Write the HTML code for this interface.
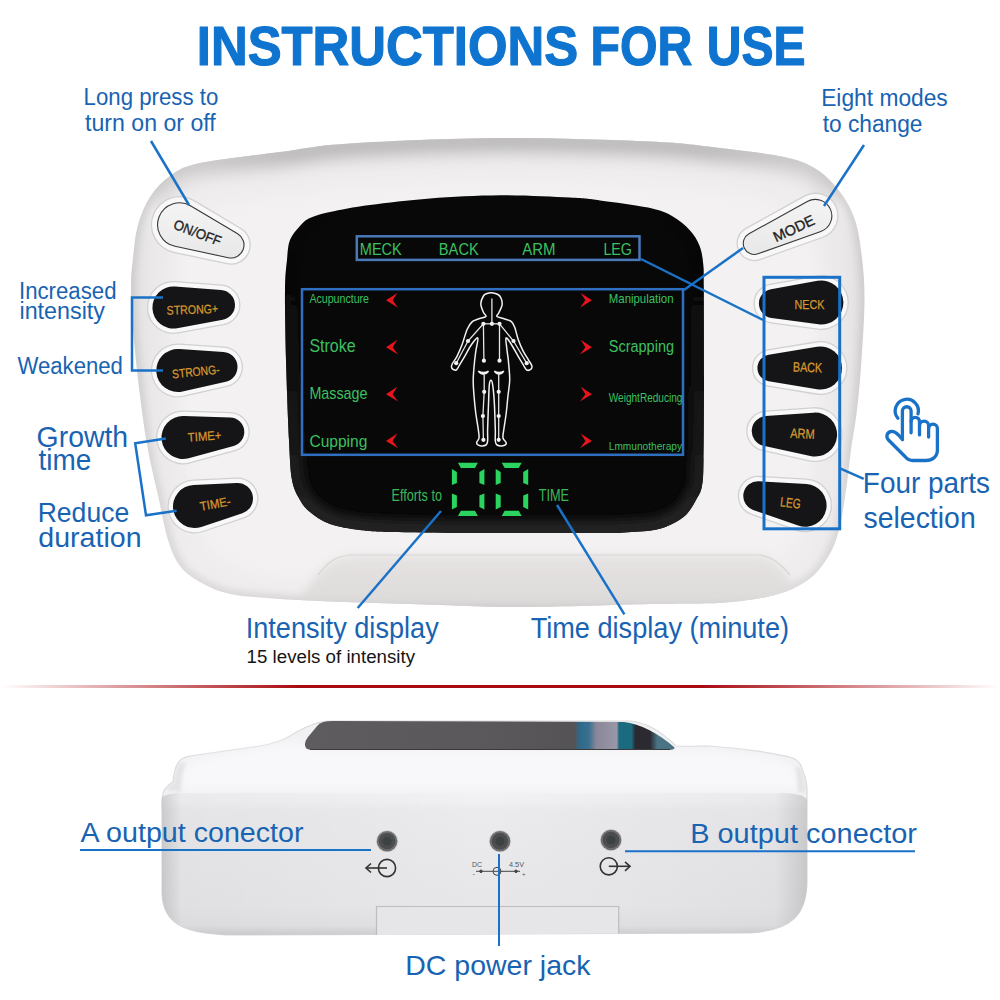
<!DOCTYPE html>
<html><head><meta charset="utf-8"><style>
html,body{margin:0;padding:0;background:#fff;width:1000px;height:1000px;overflow:hidden}
svg{display:block}
text{font-family:"Liberation Sans", sans-serif}
</style></head><body>
<svg width="1000" height="1000" viewBox="0 0 1000 1000">
<rect width="1000" height="1000" fill="#fff"/>
<text x="196.79" y="65.40" font-size="55.52" font-weight="bold" fill="#0e74cf" textLength="381.39" lengthAdjust="spacingAndGlyphs" stroke="#0e74cf" stroke-width="1.20" stroke-linejoin="round" >INSTRUCTIONS</text>
<text x="590.46" y="65.40" font-size="55.52" font-weight="bold" fill="#0e74cf" textLength="101.95" lengthAdjust="spacingAndGlyphs" stroke="#0e74cf" stroke-width="1.20" stroke-linejoin="round" >FOR</text>
<text x="706.72" y="65.40" font-size="55.52" font-weight="bold" fill="#0e74cf" textLength="98.82" lengthAdjust="spacingAndGlyphs" stroke="#0e74cf" stroke-width="1.20" stroke-linejoin="round" >USE</text>
<defs>
<linearGradient id="bodyg" x1="0" y1="0" x2="0" y2="1">
 <stop offset="0" stop-color="#d6d6d6"/>
 <stop offset="0.035" stop-color="#ededed"/>
 <stop offset="0.1" stop-color="#f3f3f3"/>
 <stop offset="0.5" stop-color="#f3f3f3"/>
 <stop offset="0.92" stop-color="#efefef"/>
 <stop offset="1" stop-color="#d8d8d8"/>
</linearGradient>
<linearGradient id="bodyr" x1="0" y1="0" x2="1" y2="0">
 <stop offset="0" stop-color="#000" stop-opacity="0.06"/>
 <stop offset="0.03" stop-color="#000" stop-opacity="0.02"/>
 <stop offset="0.08" stop-color="#000" stop-opacity="0"/>
 <stop offset="0.92" stop-color="#000" stop-opacity="0"/>
 <stop offset="0.97" stop-color="#000" stop-opacity="0.02"/>
 <stop offset="1" stop-color="#000" stop-opacity="0.06"/>
</linearGradient>
<linearGradient id="redl" x1="0" y1="0" x2="1" y2="0">
 <stop offset="0" stop-color="#a80a10" stop-opacity="0"/>
 <stop offset="0.3" stop-color="#a80a10" stop-opacity="1"/>
 <stop offset="0.7" stop-color="#a80a10" stop-opacity="1"/>
 <stop offset="1" stop-color="#a80a10" stop-opacity="0"/>
</linearGradient>
<radialGradient id="scrg" cx="0.5" cy="0.35" r="0.7">
 <stop offset="0.6" stop-color="#000" stop-opacity="1"/>
 <stop offset="0.85" stop-color="#000" stop-opacity="0.6"/>
 <stop offset="1" stop-color="#000" stop-opacity="0"/>
</radialGradient>
<linearGradient id="bpanel" gradientUnits="userSpaceOnUse" x1="0" y1="555" x2="0" y2="610">
 <stop offset="0" stop-color="#e6e3e3"/>
 <stop offset="1" stop-color="#dcd9d9"/>
</linearGradient>
<linearGradient id="topband" gradientUnits="userSpaceOnUse" x1="150" y1="0" x2="850" y2="0">
 <stop offset="0" stop-color="#dcdada"/>
 <stop offset="0.2" stop-color="#b4b2b2"/>
 <stop offset="0.8" stop-color="#b4b2b2"/>
 <stop offset="1" stop-color="#dcdada"/>
</linearGradient>
<linearGradient id="bevel" gradientUnits="userSpaceOnUse" x1="0" y1="200" x2="0" y2="535">
 <stop offset="0" stop-color="#0a0a0a" stop-opacity="0"/>
 <stop offset="0.5" stop-color="#161616" stop-opacity="0.6"/>
 <stop offset="1" stop-color="#242424" stop-opacity="1"/>
</linearGradient>
<linearGradient id="onoffg" x1="0" y1="0" x2="0" y2="1">
 <stop offset="0" stop-color="#f4f4f4"/>
 <stop offset="1" stop-color="#e8e8e8"/>
</linearGradient>
</defs>
<clipPath id="bclip"><path d="M500.0,138.0 C550.0,137.7 613.3,139.8 650.0,141.5 C686.7,143.2 697.7,145.4 720.0,148.0 C742.3,150.6 768.0,153.5 784.0,157.0 C800.0,160.5 806.7,163.2 816.0,169.0 C825.3,174.8 833.5,183.5 840.0,192.0 C846.5,200.5 851.3,209.0 855.0,220.0 C858.7,231.0 860.4,244.7 862.0,258.0 C863.6,271.3 864.6,283.0 864.5,300.0 C864.4,317.0 862.8,341.7 861.5,360.0 C860.2,378.3 858.8,395.0 857.0,410.0 C855.2,425.0 852.8,436.7 851.0,450.0 C849.2,463.3 848.0,476.7 846.0,490.0 C844.0,503.3 842.0,518.8 839.0,530.0 C836.0,541.2 833.2,548.7 828.0,557.0 C822.8,565.3 816.8,573.7 808.0,580.0 C799.2,586.3 788.8,591.2 775.0,595.0 C761.2,598.8 745.8,601.0 725.0,602.5 C704.2,604.0 683.3,603.2 650.0,604.0 C616.7,604.8 560.0,606.8 525.0,607.0 C490.0,607.2 474.2,606.0 440.0,605.0 C405.8,604.0 346.7,602.0 320.0,601.0 C293.3,600.0 295.0,600.2 280.0,599.0 C265.0,597.8 243.3,596.8 230.0,594.0 C216.7,591.2 208.3,586.7 200.0,582.0 C191.7,577.3 185.3,573.0 180.0,566.0 C174.7,559.0 171.5,551.0 168.0,540.0 C164.5,529.0 162.3,515.0 159.0,500.0 C155.7,485.0 151.2,467.3 148.0,450.0 C144.8,432.7 142.5,416.0 140.0,396.0 C137.5,376.0 134.5,348.5 133.0,330.0 C131.5,311.5 131.0,297.0 131.0,285.0 C131.0,273.0 131.9,267.8 133.0,258.0 C134.1,248.2 134.8,236.2 137.6,226.0 C140.4,215.8 144.6,205.3 150.0,197.0 C155.4,188.7 161.7,181.7 170.0,176.0 C178.3,170.3 181.7,167.0 200.0,163.0 C218.3,159.0 255.0,155.3 280.0,152.0 C305.0,148.7 313.3,145.7 350.0,143.4 C386.7,141.1 450.0,138.3 500.0,138.0 Z"/></clipPath>
<filter id="bl9" x="-0.2" y="-0.2" width="1.4" height="1.4"><feGaussianBlur stdDeviation="9"/></filter>
<filter id="bl4" x="-0.2" y="-0.2" width="1.4" height="1.4"><feGaussianBlur stdDeviation="4"/></filter>
<filter id="bl2" x="-0.5" y="-0.5" width="2" height="2"><feGaussianBlur stdDeviation="1.5"/></filter>
<g clip-path="url(#bclip)">
<rect x="100" y="120" width="800" height="500" fill="#efeded"/>
<path d="M500.0,138.0 C550.0,137.7 613.3,139.8 650.0,141.5 C686.7,143.2 697.7,145.4 720.0,148.0 C742.3,150.6 768.0,153.5 784.0,157.0 C800.0,160.5 806.7,163.2 816.0,169.0 C825.3,174.8 833.5,183.5 840.0,192.0 C846.5,200.5 851.3,209.0 855.0,220.0 C858.7,231.0 860.4,244.7 862.0,258.0 C863.6,271.3 864.6,283.0 864.5,300.0 C864.4,317.0 862.8,341.7 861.5,360.0 C860.2,378.3 858.8,395.0 857.0,410.0 C855.2,425.0 852.8,436.7 851.0,450.0 C849.2,463.3 848.0,476.7 846.0,490.0 C844.0,503.3 842.0,518.8 839.0,530.0 C836.0,541.2 833.2,548.7 828.0,557.0 C822.8,565.3 816.8,573.7 808.0,580.0 C799.2,586.3 788.8,591.2 775.0,595.0 C761.2,598.8 745.8,601.0 725.0,602.5 C704.2,604.0 683.3,603.2 650.0,604.0 C616.7,604.8 560.0,606.8 525.0,607.0 C490.0,607.2 474.2,606.0 440.0,605.0 C405.8,604.0 346.7,602.0 320.0,601.0 C293.3,600.0 295.0,600.2 280.0,599.0 C265.0,597.8 243.3,596.8 230.0,594.0 C216.7,591.2 208.3,586.7 200.0,582.0 C191.7,577.3 185.3,573.0 180.0,566.0 C174.7,559.0 171.5,551.0 168.0,540.0 C164.5,529.0 162.3,515.0 159.0,500.0 C155.7,485.0 151.2,467.3 148.0,450.0 C144.8,432.7 142.5,416.0 140.0,396.0 C137.5,376.0 134.5,348.5 133.0,330.0 C131.5,311.5 131.0,297.0 131.0,285.0 C131.0,273.0 131.9,267.8 133.0,258.0 C134.1,248.2 134.8,236.2 137.6,226.0 C140.4,215.8 144.6,205.3 150.0,197.0 C155.4,188.7 161.7,181.7 170.0,176.0 C178.3,170.3 181.7,167.0 200.0,163.0 C218.3,159.0 255.0,155.3 280.0,152.0 C305.0,148.7 313.3,145.7 350.0,143.4 C386.7,141.1 450.0,138.3 500.0,138.0 Z" fill="#f3f1f1" transform="translate(500,390) scale(0.9,0.86) translate(-500,-380)" filter="url(#bl9)"/>
<path d="M150.0,197.0 C153.3,193.5 161.7,181.7 170.0,176.0 C178.3,170.3 181.7,167.0 200.0,163.0 C218.3,159.0 255.0,155.3 280.0,152.0 C305.0,148.7 313.3,145.7 350.0,143.4 C386.7,141.1 450.0,138.3 500.0,138.0 C550.0,137.7 613.3,139.8 650.0,141.5 C686.7,143.2 697.7,145.4 720.0,148.0 C742.3,150.6 768.0,153.5 784.0,157.0 C800.0,160.5 806.7,163.2 816.0,169.0 C825.3,174.8 836.0,188.2 840.0,192.0 " fill="none" stroke="url(#topband)" stroke-width="26" filter="url(#bl9)"/>
<path d="M500.0,138.0 C550.0,137.7 613.3,139.8 650.0,141.5 C686.7,143.2 697.7,145.4 720.0,148.0 C742.3,150.6 768.0,153.5 784.0,157.0 C800.0,160.5 806.7,163.2 816.0,169.0 C825.3,174.8 833.5,183.5 840.0,192.0 C846.5,200.5 851.3,209.0 855.0,220.0 C858.7,231.0 860.4,244.7 862.0,258.0 C863.6,271.3 864.6,283.0 864.5,300.0 C864.4,317.0 862.8,341.7 861.5,360.0 C860.2,378.3 858.8,395.0 857.0,410.0 C855.2,425.0 852.8,436.7 851.0,450.0 C849.2,463.3 848.0,476.7 846.0,490.0 C844.0,503.3 842.0,518.8 839.0,530.0 C836.0,541.2 833.2,548.7 828.0,557.0 C822.8,565.3 816.8,573.7 808.0,580.0 C799.2,586.3 788.8,591.2 775.0,595.0 C761.2,598.8 745.8,601.0 725.0,602.5 C704.2,604.0 683.3,603.2 650.0,604.0 C616.7,604.8 560.0,606.8 525.0,607.0 C490.0,607.2 474.2,606.0 440.0,605.0 C405.8,604.0 346.7,602.0 320.0,601.0 C293.3,600.0 295.0,600.2 280.0,599.0 C265.0,597.8 243.3,596.8 230.0,594.0 C216.7,591.2 208.3,586.7 200.0,582.0 C191.7,577.3 185.3,573.0 180.0,566.0 C174.7,559.0 171.5,551.0 168.0,540.0 C164.5,529.0 162.3,515.0 159.0,500.0 C155.7,485.0 151.2,467.3 148.0,450.0 C144.8,432.7 142.5,416.0 140.0,396.0 C137.5,376.0 134.5,348.5 133.0,330.0 C131.5,311.5 131.0,297.0 131.0,285.0 C131.0,273.0 131.9,267.8 133.0,258.0 C134.1,248.2 134.8,236.2 137.6,226.0 C140.4,215.8 144.6,205.3 150.0,197.0 C155.4,188.7 161.7,181.7 170.0,176.0 C178.3,170.3 181.7,167.0 200.0,163.0 C218.3,159.0 255.0,155.3 280.0,152.0 C305.0,148.7 313.3,145.7 350.0,143.4 C386.7,141.1 450.0,138.3 500.0,138.0 Z" fill="none" stroke="#c8c6c6" stroke-width="5" filter="url(#bl4)"/>
<path d="M300,600 C315,575 325,560 350,555 L760,555 C775,558 785,570 800,600 L800,640 L300,640 Z" fill="url(#bpanel)" filter="url(#bl4)"/>
<path d="M318,575 C328,562 336,556 350,555 L760,555 C772,557 780,563 790,575" fill="none" stroke="#d2cfcf" stroke-width="1.2" opacity="0.8"/>
<path d="M100,598 C300,606 700,612 900,598 L900,640 L100,640 Z" fill="#c9c6c6" filter="url(#bl4)"/>
<path d="M500.0,138.0 C550.0,137.7 613.3,139.8 650.0,141.5 C686.7,143.2 697.7,145.4 720.0,148.0 C742.3,150.6 768.0,153.5 784.0,157.0 C800.0,160.5 806.7,163.2 816.0,169.0 C825.3,174.8 833.5,183.5 840.0,192.0 C846.5,200.5 851.3,209.0 855.0,220.0 C858.7,231.0 860.4,244.7 862.0,258.0 C863.6,271.3 864.6,283.0 864.5,300.0 C864.4,317.0 862.8,341.7 861.5,360.0 C860.2,378.3 858.8,395.0 857.0,410.0 C855.2,425.0 852.8,436.7 851.0,450.0 C849.2,463.3 848.0,476.7 846.0,490.0 C844.0,503.3 842.0,518.8 839.0,530.0 C836.0,541.2 833.2,548.7 828.0,557.0 C822.8,565.3 816.8,573.7 808.0,580.0 C799.2,586.3 788.8,591.2 775.0,595.0 C761.2,598.8 745.8,601.0 725.0,602.5 C704.2,604.0 683.3,603.2 650.0,604.0 C616.7,604.8 560.0,606.8 525.0,607.0 C490.0,607.2 474.2,606.0 440.0,605.0 C405.8,604.0 346.7,602.0 320.0,601.0 C293.3,600.0 295.0,600.2 280.0,599.0 C265.0,597.8 243.3,596.8 230.0,594.0 C216.7,591.2 208.3,586.7 200.0,582.0 C191.7,577.3 185.3,573.0 180.0,566.0 C174.7,559.0 171.5,551.0 168.0,540.0 C164.5,529.0 162.3,515.0 159.0,500.0 C155.7,485.0 151.2,467.3 148.0,450.0 C144.8,432.7 142.5,416.0 140.0,396.0 C137.5,376.0 134.5,348.5 133.0,330.0 C131.5,311.5 131.0,297.0 131.0,285.0 C131.0,273.0 131.9,267.8 133.0,258.0 C134.1,248.2 134.8,236.2 137.6,226.0 C140.4,215.8 144.6,205.3 150.0,197.0 C155.4,188.7 161.7,181.7 170.0,176.0 C178.3,170.3 181.7,167.0 200.0,163.0 C218.3,159.0 255.0,155.3 280.0,152.0 C305.0,148.7 313.3,145.7 350.0,143.4 C386.7,141.1 450.0,138.3 500.0,138.0 Z" fill="url(#bodyr)"/>
</g>
<path d="M500.0,195.3 C523.3,195.2 553.3,196.8 570.0,197.6 C586.7,198.4 587.0,198.7 600.0,200.4 C613.0,202.1 636.0,205.0 648.0,207.6 C660.0,210.2 665.0,212.2 672.0,216.0 C679.0,219.8 685.4,225.4 690.0,230.4 C694.6,235.4 697.4,240.4 699.6,246.0 C701.8,251.6 702.5,257.0 703.2,264.0 C703.9,271.0 703.7,268.7 703.8,288.0 C703.9,307.3 704.0,351.3 704.0,380.0 C704.0,408.7 703.8,442.3 703.5,460.0 C703.2,477.7 703.2,479.3 702.0,486.0 C700.8,492.7 698.6,495.3 696.0,500.0 C693.4,504.7 690.4,510.4 686.4,514.4 C682.4,518.4 677.4,521.4 672.0,524.0 C666.6,526.6 662.0,528.6 654.0,530.0 C646.0,531.4 633.0,531.9 624.0,532.4 C615.0,532.9 625.7,532.9 600.0,533.0 C574.3,533.1 505.0,533.2 470.0,533.0 C435.0,532.8 408.3,532.5 390.0,532.0 C371.7,531.5 370.0,531.3 360.0,530.0 C350.0,528.7 338.3,527.0 330.0,524.0 C321.7,521.0 315.0,516.0 310.0,512.0 C305.0,508.0 303.0,505.3 300.0,500.0 C297.0,494.7 293.8,490.0 292.0,480.0 C290.2,470.0 290.0,460.0 289.0,440.0 C288.0,420.0 286.7,385.0 286.0,360.0 C285.3,335.0 284.8,306.7 285.0,290.0 C285.2,273.3 286.2,268.3 287.0,260.0 C287.8,251.7 287.8,245.7 290.0,240.0 C292.2,234.3 296.7,229.7 300.0,226.0 C303.3,222.3 305.0,220.3 310.0,218.0 C315.0,215.7 320.0,214.2 330.0,212.0 C340.0,209.8 353.3,207.2 370.0,205.0 C386.7,202.8 408.3,200.1 430.0,198.5 C451.7,196.9 476.7,195.5 500.0,195.3 Z" fill="#080808"/>
<clipPath id="sclip"><path d="M500.0,195.3 C523.3,195.2 553.3,196.8 570.0,197.6 C586.7,198.4 587.0,198.7 600.0,200.4 C613.0,202.1 636.0,205.0 648.0,207.6 C660.0,210.2 665.0,212.2 672.0,216.0 C679.0,219.8 685.4,225.4 690.0,230.4 C694.6,235.4 697.4,240.4 699.6,246.0 C701.8,251.6 702.5,257.0 703.2,264.0 C703.9,271.0 703.7,268.7 703.8,288.0 C703.9,307.3 704.0,351.3 704.0,380.0 C704.0,408.7 703.8,442.3 703.5,460.0 C703.2,477.7 703.2,479.3 702.0,486.0 C700.8,492.7 698.6,495.3 696.0,500.0 C693.4,504.7 690.4,510.4 686.4,514.4 C682.4,518.4 677.4,521.4 672.0,524.0 C666.6,526.6 662.0,528.6 654.0,530.0 C646.0,531.4 633.0,531.9 624.0,532.4 C615.0,532.9 625.7,532.9 600.0,533.0 C574.3,533.1 505.0,533.2 470.0,533.0 C435.0,532.8 408.3,532.5 390.0,532.0 C371.7,531.5 370.0,531.3 360.0,530.0 C350.0,528.7 338.3,527.0 330.0,524.0 C321.7,521.0 315.0,516.0 310.0,512.0 C305.0,508.0 303.0,505.3 300.0,500.0 C297.0,494.7 293.8,490.0 292.0,480.0 C290.2,470.0 290.0,460.0 289.0,440.0 C288.0,420.0 286.7,385.0 286.0,360.0 C285.3,335.0 284.8,306.7 285.0,290.0 C285.2,273.3 286.2,268.3 287.0,260.0 C287.8,251.7 287.8,245.7 290.0,240.0 C292.2,234.3 296.7,229.7 300.0,226.0 C303.3,222.3 305.0,220.3 310.0,218.0 C315.0,215.7 320.0,214.2 330.0,212.0 C340.0,209.8 353.3,207.2 370.0,205.0 C386.7,202.8 408.3,200.1 430.0,198.5 C451.7,196.9 476.7,195.5 500.0,195.3 Z"/></clipPath>
<filter id="blsc" filterUnits="userSpaceOnUse" x="260" y="170" width="470" height="390"><feGaussianBlur stdDeviation="4"/></filter>
<g clip-path="url(#sclip)"><g filter="url(#blsc)"><path d="M500.0,195.3 C523.3,195.2 553.3,196.8 570.0,197.6 C586.7,198.4 587.0,198.7 600.0,200.4 C613.0,202.1 636.0,205.0 648.0,207.6 C660.0,210.2 665.0,212.2 672.0,216.0 C679.0,219.8 685.4,225.4 690.0,230.4 C694.6,235.4 697.4,240.4 699.6,246.0 C701.8,251.6 702.5,257.0 703.2,264.0 C703.9,271.0 703.7,268.7 703.8,288.0 C703.9,307.3 704.0,351.3 704.0,380.0 C704.0,408.7 703.8,442.3 703.5,460.0 C703.2,477.7 703.2,479.3 702.0,486.0 C700.8,492.7 698.6,495.3 696.0,500.0 C693.4,504.7 690.4,510.4 686.4,514.4 C682.4,518.4 677.4,521.4 672.0,524.0 C666.6,526.6 662.0,528.6 654.0,530.0 C646.0,531.4 633.0,531.9 624.0,532.4 C615.0,532.9 625.7,532.9 600.0,533.0 C574.3,533.1 505.0,533.2 470.0,533.0 C435.0,532.8 408.3,532.5 390.0,532.0 C371.7,531.5 370.0,531.3 360.0,530.0 C350.0,528.7 338.3,527.0 330.0,524.0 C321.7,521.0 315.0,516.0 310.0,512.0 C305.0,508.0 303.0,505.3 300.0,500.0 C297.0,494.7 293.8,490.0 292.0,480.0 C290.2,470.0 290.0,460.0 289.0,440.0 C288.0,420.0 286.7,385.0 286.0,360.0 C285.3,335.0 284.8,306.7 285.0,290.0 C285.2,273.3 286.2,268.3 287.0,260.0 C287.8,251.7 287.8,245.7 290.0,240.0 C292.2,234.3 296.7,229.7 300.0,226.0 C303.3,222.3 305.0,220.3 310.0,218.0 C315.0,215.7 320.0,214.2 330.0,212.0 C340.0,209.8 353.3,207.2 370.0,205.0 C386.7,202.8 408.3,200.1 430.0,198.5 C451.7,196.9 476.7,195.5 500.0,195.3 Z" fill="none" stroke="url(#bevel)" stroke-width="26"/></g></g>
<rect x="356.8" y="236.3" width="282.7" height="23.6" fill="none" stroke="#4a78b8" stroke-width="2.5"/>
<text x="359.8" y="255.4" font-size="16.57" font-weight="normal" fill="#3cc060" text-anchor="start" textLength="42.0" lengthAdjust="spacingAndGlyphs" >MECK</text>
<text x="438.8" y="255.4" font-size="16.57" font-weight="normal" fill="#3cc060" text-anchor="start" textLength="40.0" lengthAdjust="spacingAndGlyphs" >BACK</text>
<text x="522.3" y="255.4" font-size="16.57" font-weight="normal" fill="#3cc060" text-anchor="start" textLength="33.2" lengthAdjust="spacingAndGlyphs" >ARM</text>
<text x="603.4" y="255.4" font-size="16.57" font-weight="normal" fill="#3cc060" text-anchor="start" textLength="28.6" lengthAdjust="spacingAndGlyphs" >LEG</text>
<rect x="302" y="289.2" width="381" height="165.6" fill="none" stroke="#2f6fc0" stroke-width="2.5"/>
<text x="309.4" y="302.9" font-size="12.21" font-weight="normal" fill="#3cc060" text-anchor="start" textLength="59.6" lengthAdjust="spacingAndGlyphs" >Acupuncture</text>
<text x="309.4" y="352.0" font-size="17.44" font-weight="normal" fill="#3cc060" text-anchor="start" textLength="46.2" lengthAdjust="spacingAndGlyphs" >Stroke</text>
<text x="309.4" y="398.7" font-size="17.01" font-weight="normal" fill="#3cc060" text-anchor="start" textLength="58.0" lengthAdjust="spacingAndGlyphs" >Massage</text>
<text x="309.4" y="446.5" font-size="16.42" font-weight="normal" fill="#3cc060" text-anchor="start" textLength="58.0" lengthAdjust="spacingAndGlyphs" >Cupping</text>
<text x="608.8" y="303.3" font-size="12.79" font-weight="normal" fill="#3cc060" text-anchor="start" textLength="64.7" lengthAdjust="spacingAndGlyphs" >Manipulation</text>
<text x="608.8" y="352.0" font-size="16.42" font-weight="normal" fill="#3cc060" text-anchor="start" textLength="65.2" lengthAdjust="spacingAndGlyphs" >Scrapping</text>
<text x="608.8" y="401.6" font-size="12.21" font-weight="normal" fill="#3cc060" text-anchor="start" textLength="73.6" lengthAdjust="spacingAndGlyphs" >WeightReducing</text>
<text x="608.8" y="450.0" font-size="11.19" font-weight="normal" fill="#3cc060" text-anchor="start" textLength="73.2" lengthAdjust="spacingAndGlyphs" >Lmmunotherapy</text>
<path d="M386,300.3 L397.3,292.9 L392.6,300.3 L398,307.7 Z" fill="#e8141c"/>
<path d="M592,300.3 L580.7,292.9 L585.4,300.3 L580,307.7 Z" fill="#e8141c"/>
<path d="M386,347.2 L397.3,339.8 L392.6,347.2 L398,354.6 Z" fill="#e8141c"/>
<path d="M592,347.2 L580.7,339.8 L585.4,347.2 L580,354.6 Z" fill="#e8141c"/>
<path d="M386,394.2 L397.3,386.8 L392.6,394.2 L398,401.6 Z" fill="#e8141c"/>
<path d="M592,394.2 L580.7,386.8 L585.4,394.2 L580,401.6 Z" fill="#e8141c"/>
<path d="M386,440.9 L397.3,433.5 L392.6,440.9 L398,448.3 Z" fill="#e8141c"/>
<path d="M592,440.9 L580.7,433.5 L585.4,440.9 L580,448.3 Z" fill="#e8141c"/>
<path d="M491.9,292.7 C493.7,292.9 496.4,293.5 498.0,294.5 C499.6,295.5 500.5,296.8 501.2,298.6 C501.9,300.4 502.4,303.0 502.0,305.4 C501.6,307.8 499.5,311.1 498.7,313.0 C497.9,314.9 496.0,315.5 497.0,316.5 C498.0,317.5 502.2,318.1 504.6,319.0 C507.0,319.9 509.7,320.2 511.4,321.6 C513.1,323.0 513.7,324.5 514.8,327.5 C515.9,330.5 516.8,335.4 518.2,339.4 C519.6,343.4 521.6,347.9 523.3,351.3 C525.0,354.7 527.0,357.4 528.4,359.8 C529.8,362.2 531.4,364.2 531.8,365.8 C532.2,367.4 531.9,368.5 531.0,369.2 C530.1,369.9 528.0,370.7 526.7,370.0 C525.4,369.3 524.7,367.2 523.3,364.9 C521.9,362.6 520.2,359.8 518.2,356.4 C516.2,353.0 513.4,347.6 511.4,344.5 C509.4,341.4 506.7,337.1 506.0,338.0 C505.3,338.9 506.6,346.0 507.0,350.0 C507.4,354.0 508.1,357.0 508.5,362.0 C508.9,367.0 509.8,374.4 509.7,380.0 C509.6,385.6 508.6,390.1 508.0,395.5 C507.4,400.9 507.0,406.8 506.3,412.5 C505.6,418.2 504.4,425.4 503.8,429.6 C503.2,433.9 502.6,435.8 503.0,438.0 C503.4,440.2 506.3,441.7 506.3,443.0 C506.3,444.3 504.6,445.4 503.0,445.7 C501.4,446.0 498.3,445.8 497.0,445.0 C495.7,444.2 495.6,443.6 495.3,441.0 C495.0,438.4 495.5,435.8 495.3,429.6 C495.1,423.4 494.8,411.4 494.4,404.0 C494.0,396.6 493.3,389.0 492.7,385.0 C492.1,381.0 491.6,380.2 491.0,380.2 C490.4,380.2 489.7,381.0 489.3,385.0 C488.9,389.0 488.8,396.6 488.5,404.0 C488.2,411.4 487.8,423.4 487.6,429.6 C487.5,435.8 487.9,438.4 487.6,441.0 C487.3,443.6 487.3,444.2 486.0,445.0 C484.7,445.8 481.6,446.0 480.0,445.7 C478.4,445.4 476.8,444.3 476.6,443.0 C476.4,441.7 478.7,440.2 479.0,438.0 C479.3,435.8 478.9,433.9 478.3,429.6 C477.8,425.4 476.4,418.2 475.7,412.5 C475.0,406.8 474.4,400.9 474.0,395.5 C473.6,390.1 473.1,385.6 473.2,380.0 C473.3,374.4 474.0,367.0 474.5,362.0 C475.0,357.0 475.4,354.0 476.0,350.0 C476.6,346.0 478.6,338.9 477.8,338.0 C477.1,337.1 473.7,341.4 471.5,344.5 C469.3,347.6 466.7,353.0 464.7,356.4 C462.7,359.8 461.0,362.6 459.6,364.9 C458.2,367.2 457.5,369.4 456.2,370.0 C454.9,370.6 452.6,369.3 451.9,368.3 C451.2,367.3 451.3,366.0 452.2,364.0 C453.1,362.0 455.4,359.6 457.0,356.4 C458.6,353.1 460.4,349.0 462.1,344.5 C463.8,340.0 465.5,333.0 467.2,329.2 C468.9,325.4 470.4,323.3 472.3,321.6 C474.2,319.9 476.0,319.9 478.3,319.0 C480.6,318.1 485.0,317.6 485.9,316.5 C486.8,315.4 484.2,314.3 483.4,312.2 C482.5,310.1 480.8,306.4 480.8,303.7 C480.8,301.0 482.4,297.7 483.4,296.0 C484.4,294.3 485.6,294.1 487.0,293.5 C488.4,292.9 490.1,292.5 491.9,292.7 Z" fill="none" stroke="#f2f2f2" stroke-width="1.5" stroke-linejoin="round"/>
<g stroke="#e6e6e6" stroke-width="1.3" fill="none"><line x1="491.9" y1="298.6" x2="491.9" y2="323.8"/><line x1="483.4" y1="323.8" x2="499.5" y2="323.8"/><line x1="483.4" y1="323.8" x2="483.9" y2="360.7"/><line x1="499.5" y1="323.8" x2="499.5" y2="360.7"/><polyline points="483.4,323.8 468,341 456.2,363.2"/><polyline points="499.5,323.8 513.5,341 526.7,363.2"/><polyline points="484.2,375 484.2,391.8 482.9,416 483.4,439.8"/><polyline points="498.7,375 498.7,391.8 498.7,416 498.7,439.8"/></g>
<circle cx="483.4" cy="323.8" r="2.1" fill="#f2f2f2"/>
<circle cx="491.9" cy="323.8" r="2.1" fill="#f2f2f2"/>
<circle cx="499.5" cy="323.8" r="2.1" fill="#f2f2f2"/>
<circle cx="468.0" cy="341.0" r="2.1" fill="#f2f2f2"/>
<circle cx="513.5" cy="341.0" r="2.1" fill="#f2f2f2"/>
<circle cx="456.2" cy="363.2" r="2.1" fill="#f2f2f2"/>
<circle cx="526.7" cy="363.2" r="2.1" fill="#f2f2f2"/>
<circle cx="483.9" cy="360.7" r="2.1" fill="#f2f2f2"/>
<circle cx="499.5" cy="360.7" r="2.1" fill="#f2f2f2"/>
<circle cx="484.2" cy="391.8" r="2.1" fill="#f2f2f2"/>
<circle cx="498.7" cy="391.8" r="2.1" fill="#f2f2f2"/>
<circle cx="482.9" cy="416.0" r="2.1" fill="#f2f2f2"/>
<circle cx="498.7" cy="416.0" r="2.1" fill="#f2f2f2"/>
<circle cx="483.4" cy="439.8" r="2.1" fill="#f2f2f2"/>
<circle cx="498.7" cy="439.8" r="2.1" fill="#f2f2f2"/>
<path d="M478.3,371.2 Q483.5,377.5 488.5,371.2 Q483.5,374 478.3,371.2 Z M494.4,371.2 Q499,377.5 503.8,371.2 Q499,374 494.4,371.2 Z" fill="#f2f2f2" stroke="#f2f2f2" stroke-width="1.5"/>
<path d="M457.9,462.7 L477.9,462.7 L474.9,467.9 L460.9,467.9 Z M457.9,516 L477.9,516 L474.9,510.7 L460.9,510.7 Z M451.9,469 L456.9,472 L456.9,483 L451.9,485 Z M451.9,493.5 L456.9,495.5 L456.9,507 L451.9,509.6 Z M484.4,469 L479.4,472 L479.4,483 L484.4,485 Z M484.4,493.5 L479.4,495.5 L479.4,507 L484.4,509.6 Z" fill="#2bd45e"/>
<path d="M501.7,462.7 L521.7,462.7 L518.7,467.9 L504.7,467.9 Z M501.7,516 L521.7,516 L518.7,510.7 L504.7,510.7 Z M495.7,469 L500.7,472 L500.7,483 L495.7,485 Z M495.7,493.5 L500.7,495.5 L500.7,507 L495.7,509.6 Z M528.2,469 L523.2,472 L523.2,483 L528.2,485 Z M528.2,493.5 L523.2,495.5 L523.2,507 L528.2,509.6 Z" fill="#2bd45e"/>
<text x="391.6" y="501.0" font-size="15.99" font-weight="normal" fill="#3cb85a" text-anchor="start" textLength="50.4" lengthAdjust="spacingAndGlyphs" >Efforts to</text>
<text x="538.7" y="501.0" font-size="15.99" font-weight="normal" fill="#3cb85a" text-anchor="start" textLength="30.3" lengthAdjust="spacingAndGlyphs" >TIME</text>
<path d="M194.36,200.07 L241.15,228.00 A19.80,19.80 0 0 1 226.86,264.36 L173.57,252.96 A28.80,28.80 0 1 1 194.36,200.07 Z" fill="#d2d0d0"/>
<path d="M193.70,201.19 L240.48,229.11 A18.50,18.50 0 0 1 227.13,263.09 L173.85,251.69 A27.50,27.50 0 1 1 193.70,201.19 Z" fill="#f8f8f8"/>
<path d="M190.88,205.91 L237.66,233.84 A13.00,13.00 0 0 1 228.28,257.71 L175.00,246.31 A22.00,22.00 0 1 1 190.88,205.91 Z" fill="url(#onoffg)" stroke="#383838" stroke-width="1.1"/>
<path d="M745.68,227.83 L804.01,195.52 A23.30,23.30 0 1 1 823.10,237.86 L760.26,260.17 A17.80,17.80 0 0 1 745.68,227.83 Z" fill="#d2d0d0"/>
<path d="M746.31,228.97 L804.64,196.65 A22.00,22.00 0 1 1 822.66,236.63 L759.82,258.95 A16.50,16.50 0 0 1 746.31,228.97 Z" fill="#f8f8f8"/>
<path d="M748.97,233.78 L807.31,201.47 A16.50,16.50 0 1 1 820.82,231.45 L757.98,253.77 A11.00,11.00 0 0 1 748.97,233.78 Z" fill="url(#onoffg)" stroke="#383838" stroke-width="1.1"/>
<text x="0" y="0" font-size="14" fill="#1e1e1e" stroke="#1e1e1e" stroke-width="0.35" text-anchor="middle" transform="translate(195.8,237.3) rotate(21)" textLength="50" lengthAdjust="spacingAndGlyphs">ON/OFF</text>
<text x="0" y="0" font-size="14.5" fill="#1e1e1e" stroke="#1e1e1e" stroke-width="0.35" text-anchor="middle" transform="translate(796,233) rotate(-25)" textLength="44" lengthAdjust="spacingAndGlyphs">MODE</text>
<path d="M175.39,281.08 L221.54,284.56 A20.50,20.50 0 0 1 223.72,325.16 L178.21,333.56 A26.50,26.50 0 1 1 175.39,281.08 Z" fill="#d2d0d0"/>
<path d="M175.30,282.37 L221.44,285.85 A19.20,19.20 0 0 1 223.49,323.88 L177.97,332.28 A25.20,25.20 0 1 1 175.30,282.37 Z" fill="#f8f8f8"/>
<path d="M174.98,286.56 L221.13,290.04 A15.00,15.00 0 0 1 222.72,319.75 L177.21,328.15 A21.00,21.00 0 1 1 174.98,286.56 Z" fill="#151518"/>
<text x="0" y="0" font-size="12.4" fill="#d8992e" stroke="#d8992e" stroke-width="0.25" text-anchor="middle" transform="translate(192.5,313.8) rotate(-2)" textLength="51.3" lengthAdjust="spacingAndGlyphs">STRONG+</text>
<path d="M179.62,343.56 L223.88,346.55 A20.50,20.50 0 0 1 227.05,386.99 L183.79,396.83 A27.00,27.00 0 1 1 179.62,343.56 Z" fill="#d2d0d0"/>
<path d="M179.53,344.86 L223.79,347.84 A19.20,19.20 0 0 1 226.76,385.72 L183.50,395.56 A25.70,25.70 0 1 1 179.53,344.86 Z" fill="#f8f8f8"/>
<path d="M179.25,349.05 L223.51,352.03 A15.00,15.00 0 0 1 225.83,381.63 L182.57,391.46 A21.50,21.50 0 1 1 179.25,349.05 Z" fill="#151518"/>
<text x="0" y="0" font-size="12.4" fill="#d8992e" stroke="#d8992e" stroke-width="0.25" text-anchor="middle" transform="translate(196.2,376.0) rotate(-6)" textLength="47.5" lengthAdjust="spacingAndGlyphs">STRONG-</text>
<path d="M183.87,410.51 L230.44,412.01 A20.00,20.00 0 0 1 235.06,451.30 L190.10,463.55 A27.00,27.00 0 1 1 183.87,410.51 Z" fill="#d2d0d0"/>
<path d="M183.83,411.81 L230.40,413.31 A18.70,18.70 0 0 1 234.72,450.04 L189.76,462.30 A25.70,25.70 0 1 1 183.83,411.81 Z" fill="#f8f8f8"/>
<path d="M183.69,416.01 L230.27,417.51 A14.50,14.50 0 0 1 233.61,445.99 L188.65,458.24 A21.50,21.50 0 1 1 183.69,416.01 Z" fill="#151518"/>
<text x="0" y="0" font-size="12.4" fill="#d8992e" stroke="#d8992e" stroke-width="0.25" text-anchor="middle" transform="translate(204.9,440.5) rotate(-4)" textLength="33.7" lengthAdjust="spacingAndGlyphs">TIME+</text>
<path d="M193.25,479.53 L236.53,477.52 A21.00,21.00 0 0 1 244.14,518.42 L203.03,532.12 A27.00,27.00 0 1 1 193.25,479.53 Z" fill="#d2d0d0"/>
<path d="M193.31,480.83 L236.59,478.82 A19.70,19.70 0 0 1 243.73,517.19 L202.62,530.88 A25.70,25.70 0 1 1 193.31,480.83 Z" fill="#f8f8f8"/>
<path d="M193.50,485.02 L236.78,483.02 A15.50,15.50 0 0 1 242.40,513.21 L201.29,526.90 A21.50,21.50 0 1 1 193.50,485.02 Z" fill="#151518"/>
<text x="0" y="0" font-size="12.4" fill="#d8992e" stroke="#d8992e" stroke-width="0.25" text-anchor="middle" transform="translate(216.0,508.0) rotate(-10)" textLength="31.0" lengthAdjust="spacingAndGlyphs">TIME-</text>
<path d="M769.98,283.71 L816.59,275.42 A27.50,27.50 0 1 1 817.72,329.75 L770.81,323.42 A20.10,20.10 0 0 1 769.98,283.71 Z" fill="#d2d0d0"/>
<path d="M770.21,284.99 L816.81,276.70 A26.20,26.20 0 1 1 817.89,328.46 L770.98,322.13 A18.80,18.80 0 0 1 770.21,284.99 Z" fill="#f8f8f8"/>
<path d="M770.94,289.13 L817.55,280.84 A22.00,22.00 0 1 1 818.46,324.30 L771.55,317.97 A14.60,14.60 0 0 1 770.94,289.13 Z" fill="#151518"/>
<text x="0" y="0" font-size="13.6" fill="#d8992e" stroke="#d8992e" stroke-width="0.25" text-anchor="middle" transform="translate(809.5,308.8) rotate(0)" textLength="29.9" lengthAdjust="spacingAndGlyphs">NECK</text>
<path d="M767.84,349.25 L816.15,341.35 A27.00,27.00 0 1 1 816.15,394.65 L767.84,386.75 A19.00,19.00 0 0 1 767.84,349.25 Z" fill="#d2d0d0"/>
<path d="M768.05,350.53 L816.35,342.64 A25.70,25.70 0 1 1 816.35,393.36 L768.05,385.47 A17.70,17.70 0 0 1 768.05,350.53 Z" fill="#f8f8f8"/>
<path d="M768.72,354.68 L817.03,346.78 A21.50,21.50 0 1 1 817.03,389.22 L768.72,381.32 A13.50,13.50 0 0 1 768.72,354.68 Z" fill="#151518"/>
<text x="0" y="0" font-size="13.6" fill="#d8992e" stroke="#d8992e" stroke-width="0.25" text-anchor="middle" transform="translate(807.4,372.0) rotate(2)" textLength="29.3" lengthAdjust="spacingAndGlyphs">BACK</text>
<path d="M765.26,410.55 L813.16,407.17 A27.50,27.50 0 1 1 809.13,461.44 L762.25,451.01 A20.50,20.50 0 0 1 765.26,410.55 Z" fill="#d2d0d0"/>
<path d="M765.35,411.85 L813.25,408.47 A26.20,26.20 0 1 1 809.41,460.17 L762.53,449.74 A19.20,19.20 0 0 1 765.35,411.85 Z" fill="#f8f8f8"/>
<path d="M765.64,416.04 L813.55,412.65 A22.00,22.00 0 1 1 810.32,456.07 L763.44,445.64 A15.00,15.00 0 0 1 765.64,416.04 Z" fill="#151518"/>
<text x="0" y="0" font-size="13.6" fill="#d8992e" stroke="#d8992e" stroke-width="0.25" text-anchor="middle" transform="translate(802.2,438.3) rotate(3)" textLength="24.6" lengthAdjust="spacingAndGlyphs">ARM</text>
<path d="M759.15,475.83 L806.73,478.54 A26.90,26.90 0 1 1 796.32,530.79 L751.34,515.07 A20.20,20.20 0 0 1 759.15,475.83 Z" fill="#d2d0d0"/>
<path d="M759.08,477.13 L806.66,479.84 A25.60,25.60 0 1 1 796.75,529.57 L751.76,513.84 A18.90,18.90 0 0 1 759.08,477.13 Z" fill="#f8f8f8"/>
<path d="M758.84,481.32 L806.42,484.03 A21.40,21.40 0 1 1 798.14,525.60 L753.15,509.88 A14.70,14.70 0 0 1 758.84,481.32 Z" fill="#151518"/>
<text x="0" y="0" font-size="13.6" fill="#d8992e" stroke="#d8992e" stroke-width="0.25" text-anchor="middle" transform="translate(789.9,507.5) rotate(7)" textLength="20.3" lengthAdjust="spacingAndGlyphs">LEG</text>
<g stroke="#1a72c8" stroke-width="2.5" fill="none" stroke-linejoin="miter"><line x1="151" y1="141" x2="189" y2="205"/><line x1="864" y1="145" x2="824" y2="206"/><line x1="743" y1="248" x2="684" y2="290"/><line x1="641" y1="259" x2="763" y2="320"/><polyline points="163,297.6 132,297.6 132,370.6 163,370.6"/><polyline points="165.8,438.4 135.2,443.3 146,515.3 176.6,510.8"/><line x1="441" y1="511" x2="357.7" y2="608"/><line x1="557" y1="505" x2="624.4" y2="614.3"/><line x1="840" y1="468.4" x2="863.7" y2="478.8"/></g>
<rect x="764" y="277.3" width="75.7" height="251.5" fill="none" stroke="#1a72c8" stroke-width="3"/>
<text x="83.62" y="105.00" font-size="23.98" font-weight="normal" fill="#1863b2" textLength="134.66" lengthAdjust="spacingAndGlyphs" >Long press to</text>
<text x="85.05" y="131.00" font-size="23.98" font-weight="normal" fill="#1863b2" textLength="130.67" lengthAdjust="spacingAndGlyphs" >turn on or off</text>
<text x="821.18" y="105.80" font-size="23.98" font-weight="normal" fill="#1863b2" textLength="126.59" lengthAdjust="spacingAndGlyphs" >Eight modes</text>
<text x="822.66" y="132.20" font-size="23.98" font-weight="normal" fill="#1863b2" textLength="99.82" lengthAdjust="spacingAndGlyphs" >to change</text>
<text x="19.00" y="299.00" font-size="23.98" font-weight="normal" fill="#1863b2" textLength="97.48" lengthAdjust="spacingAndGlyphs" >Increased</text>
<text x="19.49" y="319.10" font-size="23.98" font-weight="normal" fill="#1863b2" textLength="85.48" lengthAdjust="spacingAndGlyphs" >intensity</text>
<text x="17.49" y="373.80" font-size="23.98" font-weight="normal" fill="#1863b2" textLength="105.41" lengthAdjust="spacingAndGlyphs" >Weakened</text>
<text x="36.58" y="446.70" font-size="29.65" font-weight="normal" fill="#1863b2" textLength="91.56" lengthAdjust="spacingAndGlyphs" >Growth</text>
<text x="38.48" y="469.80" font-size="29.65" font-weight="normal" fill="#1863b2" textLength="52.75" lengthAdjust="spacingAndGlyphs" >time</text>
<text x="37.67" y="521.70" font-size="28.49" font-weight="normal" fill="#1863b2" textLength="91.57" lengthAdjust="spacingAndGlyphs" >Reduce</text>
<text x="38.26" y="546.60" font-size="28.49" font-weight="normal" fill="#1863b2" textLength="103.27" lengthAdjust="spacingAndGlyphs" >duration</text>
<text x="245.66" y="637.70" font-size="28.92" font-weight="normal" fill="#1863b2" textLength="193.09" lengthAdjust="spacingAndGlyphs" >Intensity display</text>
<text x="246.60" y="662.80" font-size="18.75" font-weight="normal" fill="#151515" textLength="168.40" lengthAdjust="spacingAndGlyphs" >15 levels of intensity</text>
<text x="530.66" y="638.00" font-size="29.07" font-weight="normal" fill="#1863b2" textLength="258.40" lengthAdjust="spacingAndGlyphs" >Time display (minute)</text>
<text x="862.87" y="492.60" font-size="28.78" font-weight="normal" fill="#1863b2" textLength="127.17" lengthAdjust="spacingAndGlyphs" >Four parts</text>
<text x="863.55" y="528.20" font-size="28.78" font-weight="normal" fill="#1863b2" textLength="112.15" lengthAdjust="spacingAndGlyphs" >selection</text>
<g fill="none" stroke="#1a72c8" stroke-width="3.3" stroke-linecap="round" stroke-linejoin="round"><path d="M897.9,418.3 A11.6,11.6 0 1 1 918.0,413.8"/><path d="M902.4,439.5 L902.4,411.1 A4.35,4.35 0 0 1 911.1,411.1 L911.1,432.8"/><path d="M911.1,421.5 A4.2,4.2 0 0 1 919.5,421.5 L919.5,434.9"/><path d="M919.5,425.7 A4.55,4.55 0 0 1 928.6,425.7 L928.6,437"/><path d="M928.6,428.5 A4.4,4.4 0 0 1 937.4,428.5 L937.4,450 C937.4,457 932,460.5 926,460.5 L913,460.5 C909,460.5 907,459 905,456.5 L888.5,440 C885.5,437 887,432 891,431.5 C894,431 896,432.5 898.5,435 L902.4,439.5"/></g>
<rect x="0" y="685" width="1000" height="3" fill="url(#redl)"/>
<defs>
<linearGradient id="bfront" x1="0" y1="0" x2="0" y2="1">
 <stop offset="0" stop-color="#f3f3f5" stop-opacity="0"/>
 <stop offset="0.12" stop-color="#ebebed"/>
 <stop offset="0.8" stop-color="#e7e7e9"/>
 <stop offset="0.93" stop-color="#e2e2e4"/>
 <stop offset="1" stop-color="#cfcfd1"/>
</linearGradient>
<linearGradient id="bside" x1="0" y1="0" x2="1" y2="0">
 <stop offset="0" stop-color="#000" stop-opacity="0.14"/>
 <stop offset="0.03" stop-color="#000" stop-opacity="0.03"/>
 <stop offset="0.5" stop-color="#000" stop-opacity="0"/>
 <stop offset="0.95" stop-color="#000" stop-opacity="0.03"/>
 <stop offset="1" stop-color="#000" stop-opacity="0.14"/>
</linearGradient>
<linearGradient id="bscreen" gradientUnits="userSpaceOnUse" x1="306" y1="0" x2="676" y2="0">
 <stop offset="0" stop-color="#5e5c5e"/>
 <stop offset="0.5" stop-color="#5a585a"/>
 <stop offset="0.725" stop-color="#555356"/>
 <stop offset="0.74" stop-color="#2d6a8a"/>
 <stop offset="0.765" stop-color="#3a7090"/>
 <stop offset="0.785" stop-color="#8a8898"/>
 <stop offset="0.84" stop-color="#9a98a8"/>
 <stop offset="0.846" stop-color="#1a6a80"/>
 <stop offset="0.88" stop-color="#1a6a80"/>
 <stop offset="0.89" stop-color="#2a2a30"/>
 <stop offset="0.93" stop-color="#2a2a30"/>
 <stop offset="0.95" stop-color="#4a7585"/>
 <stop offset="1" stop-color="#4a7080"/>
</linearGradient>
<linearGradient id="btop" x1="0" y1="0" x2="0" y2="1">
 <stop offset="0" stop-color="#eeeeee"/>
 <stop offset="1" stop-color="#fbfbfb"/>
</linearGradient>
<radialGradient id="jack" cx="0.5" cy="0.5" r="0.5">
 <stop offset="0" stop-color="#3d4a48"/>
 <stop offset="0.6" stop-color="#5a5a5a"/>
 <stop offset="0.85" stop-color="#7a7a7a"/>
 <stop offset="1" stop-color="#b8b8b8"/>
</radialGradient>
</defs>
<path d="M162,812 C161,800 163,790 166,788 C168,785 171,783 173,782 C174,772 176,766 178,763 C180,759 184,757 190,756 C210,753 240,749 260,746 C272,744 282,741 290,736 C298,731 305,727 312,725 C318,722 322,721 330,721 L630,721 C645,722 660,730 676,746 C690,747 700,746 708,746 C740,748 775,753 793,758 C800,761 802,766 803,772 C806,778 807,784 807,792 L807,880 C807,915 792,930 750,933 L235,935 C185,934 163,925 162,893 Z" fill="#f1f1f3" stroke="#d9d9db" stroke-width="1.2"/>
<path d="M182,790 C182,775 184,764 195,759 C230,752 265,748 292,740 L320,750 L680,750 L708,750 C740,752 778,757 792,765 C798,772 799,780 799,790 Z" fill="#f8f8fa" filter="url(#bl4)"/>
<path d="M166,790 C168,786 171,784 174,783 C175,775 176,768 179,763 L186,763 C182,770 181,780 181,792 Z" fill="#e4e4e6" filter="url(#bl2)"/>
<path d="M806,792 C805,784 803,776 801,768 L795,766 C797,774 798,782 798,792 Z" fill="#e4e4e6" filter="url(#bl2)"/>
<path d="M306,748 C304,745 305,741 308,737 L318,725 Q322,721 332,721 L624,722 C640,724 658,733 674,747 C676,749 672,750 668,750 L320,750 C312,750 308,750 306,748 Z" fill="url(#bscreen)"/>
<line x1="310" y1="749.5" x2="670" y2="749.5" stroke="#3a3a3a" stroke-width="1.2"/>
<path d="M162,798 C164,794 172,793 190,793 L780,793 C795,793 805,795 807,800 L807,880 C807,915 792,930 750,933 L235,935 C185,934 163,925 162,893 Z" fill="url(#bfront)"/>
<path d="M162,798 C164,794 172,793 190,793 L780,793 C795,793 805,795 807,800 L807,880 C807,915 792,930 750,933 L235,935 C185,934 163,925 162,893 Z" fill="url(#bside)"/>
<path d="M376.5,935 L376.5,906.5 L618.75,906.5 L618.75,933.5" fill="#e6e6e8" stroke="#bdbdbf" stroke-width="1.2"/>
<circle cx="387.1" cy="841.2" r="11" fill="#d0d0d2"/>
<circle cx="387.1" cy="841.2" r="10.3" fill="#6e6e70"/>
<circle cx="387.1" cy="841.2" r="8.3" fill="#4d4d4f"/>
<circle cx="387.1" cy="841.2" r="4.5" fill="#3c4242"/>
<circle cx="500.0" cy="841.3" r="11" fill="#d0d0d2"/>
<circle cx="500.0" cy="841.3" r="10.3" fill="#6e6e70"/>
<circle cx="500.0" cy="841.3" r="8.3" fill="#4d4d4f"/>
<circle cx="500.0" cy="841.3" r="4.5" fill="#3c4242"/>
<circle cx="611.0" cy="840.0" r="11" fill="#d0d0d2"/>
<circle cx="611.0" cy="840.0" r="10.3" fill="#6e6e70"/>
<circle cx="611.0" cy="840.0" r="8.3" fill="#4d4d4f"/>
<circle cx="611.0" cy="840.0" r="4.5" fill="#3c4242"/>
<g stroke="#333" stroke-width="1.6" fill="none"><circle cx="387" cy="868" r="8.6"/><line x1="366" y1="868" x2="387" y2="868"/><polyline points="371,863.5 366,868 371,872.5"/><circle cx="608.8" cy="866.3" r="8.6"/><line x1="608.8" y1="866.3" x2="630" y2="866.3"/><polyline points="625,861.8 630,866.3 625,870.8"/></g>
<g stroke="#444" stroke-width="1" fill="#444"><line x1="476" y1="871.3" x2="520" y2="871.3"/><circle cx="481" cy="871.3" r="1.3"/><circle cx="516" cy="871.3" r="1.3"/><circle cx="497" cy="871.3" r="4" fill="none"/></g>
<text x="472.0" y="866.5" font-size="7.00" font-weight="normal" fill="#555" text-anchor="start" textLength="10.0" lengthAdjust="spacingAndGlyphs" >DC</text>
<text x="509.0" y="866.5" font-size="7.00" font-weight="normal" fill="#555" text-anchor="start" textLength="15.0" lengthAdjust="spacingAndGlyphs" >4.5V</text>
<text x="472.5" y="875.5" font-size="7.00" font-weight="normal" fill="#555" text-anchor="start" >-</text>
<text x="522.0" y="875.5" font-size="6.00" font-weight="normal" fill="#555" text-anchor="start" >+</text>
<g stroke="#1a72c8" stroke-width="2" fill="none"><line x1="80" y1="850" x2="371" y2="850"/><line x1="625" y1="851.2" x2="915" y2="851.2"/><line x1="499" y1="854" x2="499" y2="946"/></g>
<text x="80.60" y="841.80" font-size="27.62" font-weight="normal" fill="#1863b2" textLength="222.92" lengthAdjust="spacingAndGlyphs" >A output conector</text>
<text x="690.18" y="842.60" font-size="27.62" font-weight="normal" fill="#1863b2" textLength="226.85" lengthAdjust="spacingAndGlyphs" >B output conector</text>
<text x="405.32" y="974.80" font-size="27.33" font-weight="normal" fill="#1863b2" textLength="185.13" lengthAdjust="spacingAndGlyphs" >DC power jack</text>
</svg>
</body></html>
